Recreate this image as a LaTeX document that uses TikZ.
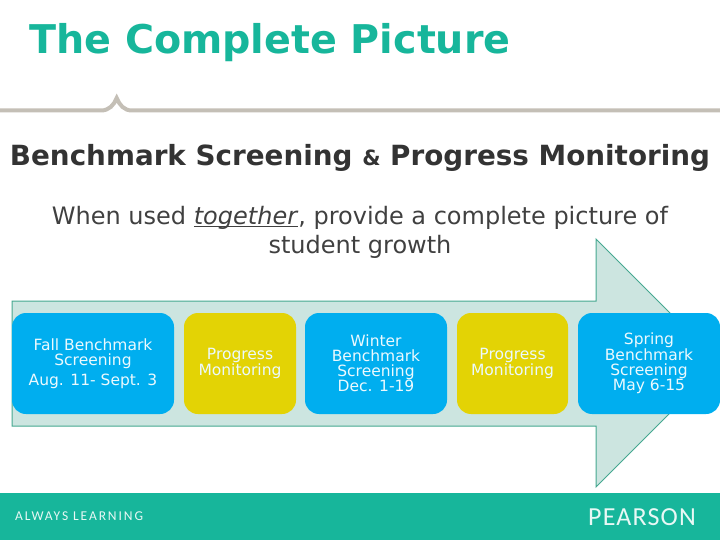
\documentclass[tikz,border=0pt]{standalone}
\usepackage{fontspec}
\setmainfont{DejaVu Sans}
\newfontfamily\logofont{Carlito}
\definecolor{pearsonteal}{HTML}{17B69B}
\definecolor{arrowfill}{HTML}{CCE5E0}
\definecolor{arrowline}{HTML}{45A890}
\definecolor{rulegray}{HTML}{C4BFB6}
\definecolor{stageblue}{HTML}{00AEEF}
\definecolor{stageyellow}{HTML}{E3D305}
\newcommand\stagetop{313}
\newcommand\stageheight{101}
\newcommand\stage[5]{
  \node[#1, minimum width=#3pt] (#2) at (#4, \stagetop + \stageheight * 0.5) {#5} ;
}
\tikzset{
  stagebox/.style={rounded corners=14pt, minimum height=\stageheight pt, inner sep=0pt,
    align=center, text=white!92!stageblue, font=\fontsize{15.5}{15}\selectfont},
  benchmark/.style={stagebox, fill=stageblue},
  progress/.style={stagebox, fill=stageyellow},
}
\begin{document}
\begin{tikzpicture}[x=1pt, y=-1pt]
    \useasboundingbox (0, 0) rectangle (720, 540);
    \node[text=pearsonteal, anchor=base west, inner sep=0pt, font=\bfseries\fontsize{39.6}{40}\selectfont] (title) at (29, 54) {The Complete Picture};
    \draw[rulegray, line width=4pt] (0, 110.5) -- (101, 110.5) .. controls (109, 110.5) and (114, 105) .. (116.7, 98)
      .. controls (119.5, 105) and (124, 110.5) .. (132, 110.5) -- (720, 110.5);
    \node[text=black!80, inner sep=0pt, font=\bfseries\fontsize{27.8}{28}\selectfont] (heading) at (360, 158) {Benchmark Screening {\fontsize{21}{21}\selectfont\&} Progress Monitoring};
    \node[text=black!75, inner sep=0pt, align=center, font=\fontsize{24}{28.5}\selectfont] (intro) at (360, 232.5)
      {When used \underline{\smash{\textit{together}}}, provide a complete picture of\\student growth};
    % arrow behind the stages
    \draw[fill=arrowfill, draw=arrowline, line width=1pt] (12, 301) -- (596, 301) -- (596, 239) -- (720, 363) -- (596, 487) -- (596, 426) -- (12, 426) -- cycle;
    \stage{benchmark}{fall}{162}{93}{Fall Benchmark\\Screening\\[5pt]Aug. 11- Sept. 3}
    \stage{progress}{firstprogress}{112}{240}{Progress\\Monitoring}
    \stage{benchmark}{winter}{142}{376}{Winter\\Benchmark\\Screening\\Dec. 1-19}
    \stage{progress}{secondprogress}{111}{512.5}{Progress\\Monitoring}
    \stage{benchmark}{spring}{142}{649}{Spring\\Benchmark\\Screening\\May 6-15}
    \fill[pearsonteal] (0, 493) rectangle (720, 540);
    \node[text=white!90!pearsonteal, inner sep=0pt, anchor=west, font=\logofont\addfontfeatures{LetterSpace=14}\fontsize{13.5}{14}\selectfont] (always) at (15, 516) {ALWAYS LEARNING};
    \node[text=white!90!pearsonteal, inner sep=0pt, anchor=east, font=\logofont\addfontfeatures{LetterSpace=4.5}\fontsize{26}{26}\selectfont] (pearson) at (696, 517) {PEARSON};
\end{tikzpicture}
\end{document}
